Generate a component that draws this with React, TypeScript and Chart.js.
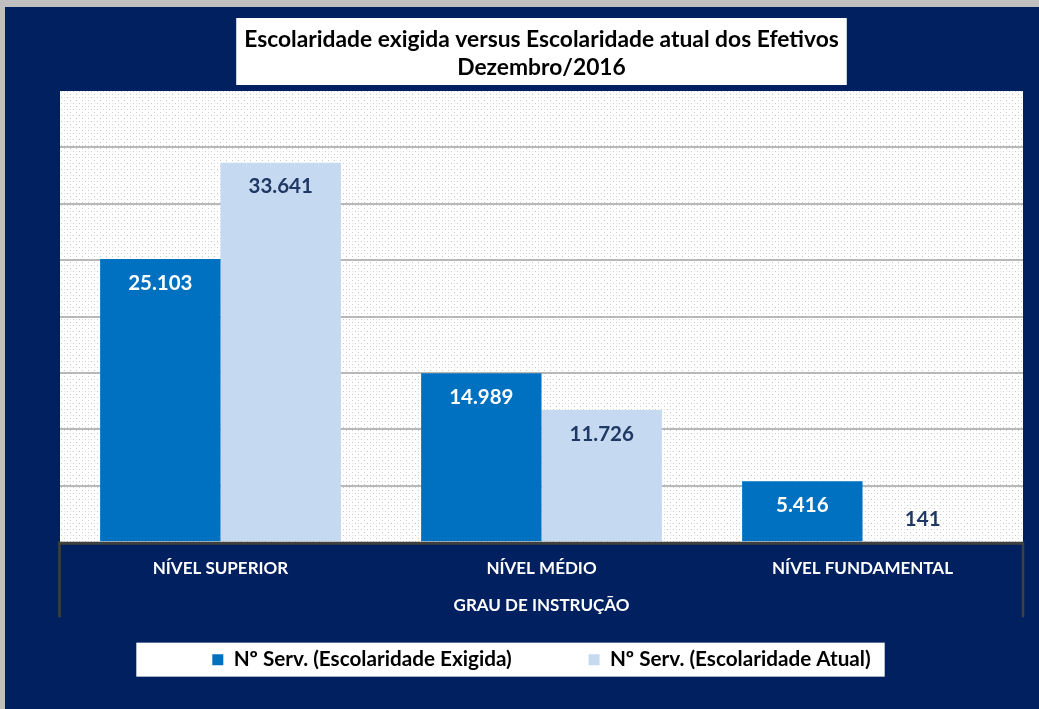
import React, { useEffect, useRef } from "react";
import { Chart, registerables } from "chart.js";

Chart.register(...registerables);

const categories = ["NÍVEL SUPERIOR", "NÍVEL MÉDIO", "NÍVEL FUNDAMENTAL"];
const exigida = [25103, 14989, 5416];
const atual = [33641, 11726, 141];
const seriesNames = ["Nº Serv. (Escolaridade Exigida)", "Nº Serv. (Escolaridade Atual)"];
const titleLines = ["Escolaridade exigida versus Escolaridade atual dos Efetivos", "Dezembro/2016"];
const axisTitle = "GRAU DE INSTRUÇÃO";

const NAVY = "#002060";
const DARK_BLUE = "#0070C0";
const LIGHT_BLUE = "#C5D9F1";
const FONT = "Lato, 'Open Sans', sans-serif";

const fmt = (n: number) => String(n).replace(/\B(?=(\d{3})+(?!\d))/g, ".");

function makePattern(ctx: CanvasRenderingContext2D) {
  const c = document.createElement("canvas");
  c.width = 6;
  c.height = 6;
  const g = c.getContext("2d")!;
  g.fillStyle = "#ffffff";
  g.fillRect(0, 0, 6, 6);
  g.fillStyle = "#c8c8c8";
  g.fillRect(1, 1, 1, 1);
  g.fillRect(4, 4, 1, 1);
  g.fillStyle = "#e2e2e2";
  g.fillRect(4, 1, 1, 1);
  return ctx.createPattern(c, "repeat")!;
}

const framePlugin = {
  id: "frame",
  beforeDraw(chart: any) {
    const ctx = chart.ctx as CanvasRenderingContext2D;
    const { width, height, chartArea } = chart;
    ctx.save();
    ctx.fillStyle = "#c0c0c0";
    ctx.fillRect(0, 0, width, height);
    ctx.fillStyle = NAVY;
    ctx.fillRect(5, 7, width - 5, height - 7);
    // plot area
    ctx.fillStyle = makePattern(ctx);
    ctx.fillRect(chartArea.left, chartArea.top, chartArea.right - chartArea.left, chartArea.bottom - chartArea.top);
    // title box
    const tb = chart.titleBlock;
    if (tb) {
      const f = tb.options.font;
      ctx.font = `bold ${f.size}px ${FONT}`;
      let w = 0;
      titleLines.forEach((t) => (w = Math.max(w, ctx.measureText(t).width)));
      const cx = (tb.left + tb.right) / 2;
      ctx.fillStyle = "#ffffff";
      ctx.fillRect(cx - w / 2 - 8, tb.top, w + 16, tb.bottom - tb.top - 6);
    }
    // legend box
    const lg = chart.legend;
    if (lg && lg.legendHitBoxes && lg.legendHitBoxes.length) {
      const hb = lg.legendHitBoxes;
      const first = hb[0];
      const last = hb[hb.length - 1];
      const cy = first.top + first.height / 2;
      ctx.fillStyle = "#ffffff";
      ctx.fillRect(first.left - 76, cy - 17, last.left + last.width + 14 - (first.left - 76), 34);
    }
    ctx.restore();
  },
  afterDatasetsDraw(chart: any) {
    const ctx = chart.ctx as CanvasRenderingContext2D;
    const { chartArea } = chart;
    ctx.save();
    ctx.strokeStyle = "#404040";
    ctx.lineWidth = 3;
    ctx.beginPath();
    ctx.moveTo(chartArea.left - 2, chartArea.bottom + 1);
    ctx.lineTo(chartArea.right + 1, chartArea.bottom + 1);
    ctx.stroke();
    ctx.lineWidth = 2.5;
    ctx.beginPath();
    ctx.moveTo(chartArea.left - 0.5, chartArea.bottom);
    ctx.lineTo(chartArea.left - 0.5, chartArea.bottom + 75);
    ctx.moveTo(chartArea.right, chartArea.bottom);
    ctx.lineTo(chartArea.right, chartArea.bottom + 75);
    ctx.stroke();

    // data labels
    ctx.font = `bold 20.5px ${FONT}`;
    ctx.textAlign = "center";
    ctx.textBaseline = "middle";
    chart.data.datasets.forEach((ds: any, di: number) => {
      const meta = chart.getDatasetMeta(di);
      meta.data.forEach((bar: any, i: number) => {
        const v = ds.data[i];
        let y = bar.y + 24;
        if (y + 10 > bar.base) y = bar.base - 22;
        ctx.fillStyle = di === 0 ? "#ffffff" : "#1f3864";
        ctx.fillText(fmt(v), bar.x, y);
      });
    });
    ctx.restore();
  },
};

export default function App() {
  const ref = useRef<HTMLCanvasElement>(null);
  useEffect(() => {
    if (!ref.current) return;
    const chart = new Chart(ref.current, {
      type: "bar",
      data: {
        labels: categories,
        datasets: [
          { label: seriesNames[0], data: exigida, backgroundColor: DARK_BLUE, borderWidth: 0 },
          { label: seriesNames[1], data: atual, backgroundColor: LIGHT_BLUE, borderWidth: 0 },
        ],
      },
      options: {
        responsive: false,
        animation: false,
        devicePixelRatio: 1,
        layout: { padding: { top: 18, left: 60, right: 16, bottom: 29 } },
        datasets: { bar: { barPercentage: 1, categoryPercentage: 0.75 } } as any,
        scales: {
          x: {
            grid: { display: false, drawTicks: false, tickLength: 0 },
            border: { display: false },
            ticks: {
              color: "#ffffff",
              padding: 15.8,
              font: { family: FONT, size: 17, weight: "bold", lineHeight: 1.2 },
            },
            title: {
              display: true,
              text: axisTitle,
              color: "#ffffff",
              padding: { top: 0.8, bottom: 13.8 },
              font: { family: FONT, size: 17, weight: "bold", lineHeight: 1.2 },
            },
          },
          y: {
            min: 0,
            max: 40000,
            ticks: { display: false, stepSize: 5000 },
            border: { display: false },
            grid: {
              drawTicks: false,
              lineWidth: 2,
              color: (c: any) =>
                c.tick && (c.tick.value === 0 || c.tick.value === 40000) ? "rgba(0,0,0,0)" : "#b8b8b8",
            },
          },
        },
        plugins: {
          title: {
            display: true,
            text: titleLines,
            color: "#000000",
            padding: { top: 8, bottom: 9 },
            font: { family: FONT, size: 22.8, weight: "bold", lineHeight: "28px" as any },
          },
          legend: {
            display: true,
            position: "bottom",
            labels: {
              color: "#000000",
              boxWidth: 11,
              boxHeight: 11,
              padding: 20,
              font: { family: FONT, size: 20.7, weight: "bold" },
              generateLabels: (chart: any) => {
                const items = Chart.defaults.plugins.legend.labels.generateLabels(chart);
                return items.map((it: any, i: number) =>
                  i === 0 ? { ...it, text: it.text + "\u2003\u2003\u2003\u2002" } : it
                );
              },
            },
          },
          tooltip: { enabled: false },
        },
      },
      plugins: [framePlugin],
    });
    return () => chart.destroy();
  }, []);
  return (
    <div style={{ position: "absolute", left: 0, top: 0, width: 1039, height: 709 }}>
      <canvas ref={ref} width={1039} height={709} style={{ display: "block" }} />
    </div>
  );
}
